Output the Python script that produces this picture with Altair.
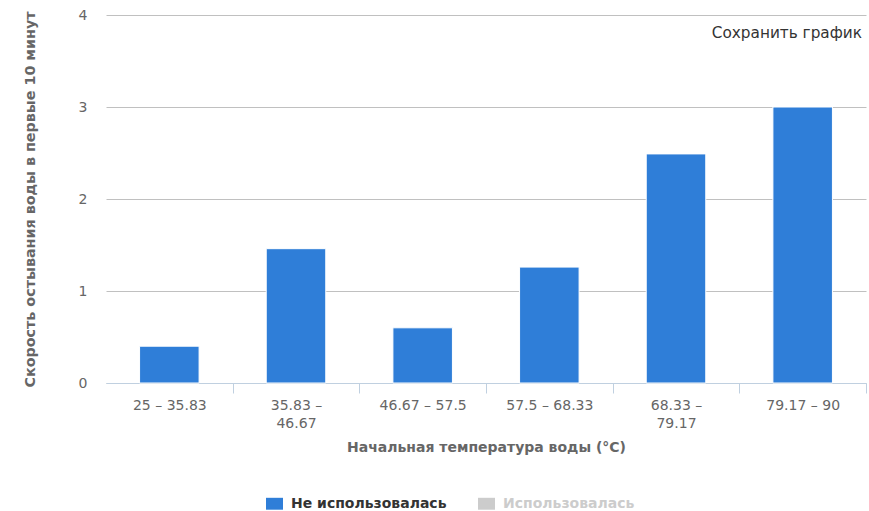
import altair as alt
import pandas as pd

# Temperature ranges (°C) and the cooling rate measured for each
categories = ["25 – 35.83", "35.83 – 46.67", "46.67 – 57.5",
              "57.5 – 68.33", "68.33 – 79.17", "79.17 – 90"]
values = [0.4, 1.46, 0.6, 1.26, 2.49, 3.0]

series_names = ["Не использовалась", "Использовалась"]
series_colors = ["#2f7ed8", "#cccccc"]
y_ticks = [0, 1, 2, 3, 4]

# Long range labels are broken over two lines
wrapped_labels = {
    "35.83 – 46.67": ["35.83 –", "46.67"],
    "68.33 – 79.17": ["68.33 –", "79.17"],
}

x_title = "Начальная температура воды (°C)"
y_title = "Скорость остывания воды в первые 10 минут"
save_label = "Сохранить график"

FONT = "DejaVu Sans"

PLOT_W = 760
PAD_INNER = 0.53
# distance from a bar's right edge to the boundary between categories
step = PLOT_W / len(categories)
gap_half = PAD_INNER * step / 2

df = pd.DataFrame({
    "category": categories,
    "value": values,
    "series": [series_names[0]] * len(categories),
})

label_expr = "datum.label"
for key, lines in reversed(list(wrapped_labels.items())):
    arr = "[" + ", ".join(f"'{s}'" for s in lines) + "]"
    label_expr = f"datum.label == '{key}' ? {arr} : ({label_expr})"

legend_color_expr = (
    f"datum.label == '{series_names[1]}' ? '#cccccc' : '#333333'"
)

bars = alt.Chart(df).mark_bar(stroke="white", strokeWidth=1).encode(
    x=alt.X(
        "category:N",
        sort=categories,
        scale=alt.Scale(paddingInner=PAD_INNER, paddingOuter=PAD_INNER / 2),
        axis=alt.Axis(
            title=x_title,
            labelAngle=0,
            labelExpr=label_expr,
            labelFont=FONT,
            labelFontSize=14,
            labelColor="#666666",
            labelPadding=5,
            labelLineHeight=18,
            labelBaseline="top",
            labelOffset=-gap_half,
            ticks=True,
            bandPosition=1,
            tickExtra=False,
            tickOffset=gap_half,
            tickSize=10,
            tickWidth=1,
            tickColor="#c0d0e0",
            domainColor="#c0d0e0",
            domainWidth=1,
            titleFont=FONT,
            titleFontSize=14,
            titleFontWeight="bold",
            titleColor="#666666",
            titlePadding=10,
        ),
    ),
    y=alt.Y(
        "value:Q",
        scale=alt.Scale(domain=[0, 4], nice=False),
        axis=alt.Axis(
            title=y_title,
            values=y_ticks,
            format="d",
            grid=True,
            gridColor="#c0c0c0",
            gridWidth=1,
            domain=False,
            ticks=False,
            tickSize=0,
            labelPadding=19,
            labelFont=FONT,
            labelFontSize=14,
            labelColor="#666666",
            titleFont=FONT,
            titleFontSize=14.3,
            titleFontWeight="bold",
            titleColor="#666666",
            titlePadding=41,
        ),
    ),
    color=alt.Color(
        "series:N",
        scale=alt.Scale(domain=series_names, range=series_colors),
        legend=alt.Legend(
            title=None,
            orient="none",
            direction="horizontal",
            legendX=160,
            legendY=480,
            symbolType="M-1,-0.7H1V0.7H-1Z",
            symbolSize=289,
            symbolStrokeWidth=0,
            symbolOpacity=1,
            labelFont=FONT,
            labelFontSize=14,
            labelFontWeight="bold",
            labelColor={"expr": legend_color_expr},
            labelOffset=8,
            columnPadding=31,
        ),
    ),
)

save_text = alt.Chart(pd.DataFrame({"label": [save_label]})).mark_text(
    align="right", baseline="middle", font=FONT, fontSize=15.3, color="#333333"
).encode(
    x=alt.value(756),
    y=alt.value(18),
    text="label:N",
)

chart = alt.layer(bars, save_text).properties(
    width=PLOT_W,
    height=368,
    autosize=alt.AutoSizeParams(type="none"),
    padding={"left": 106, "top": 15, "right": 3, "bottom": 128},
    background="white",
).configure_view(stroke=None)

chart.save("out.html", embed_options={"renderer": "svg", "actions": False})
